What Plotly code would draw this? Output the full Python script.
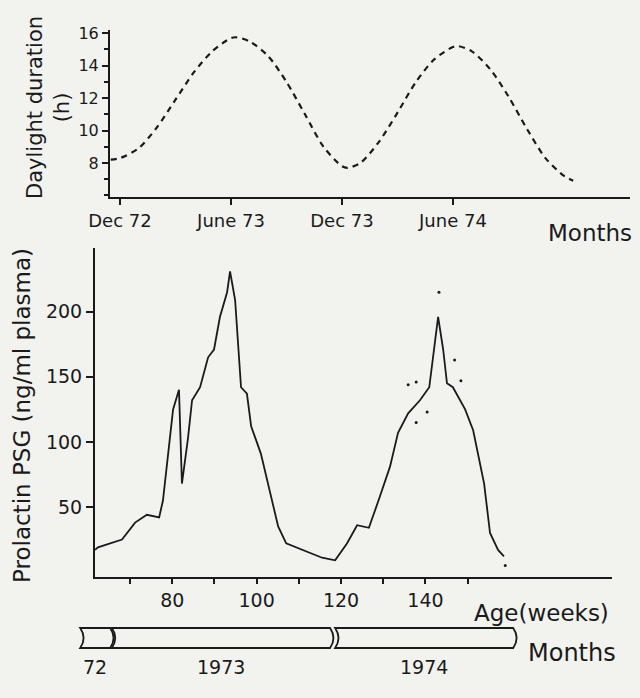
import plotly.graph_objects as go

# ---- Daylight duration (hours), months counted from December 1972 ----
day_months = [-0.5, 0, 1, 2, 3, 4, 5, 6, 6.3, 7, 8, 9, 10, 11, 12, 12.3, 13, 14,
              15, 16, 17, 18, 18.3, 19, 20, 21, 22, 23, 24, 24.5]
day_hours = [8.2, 8.3, 8.9, 10.2, 11.9, 13.6, 14.9, 15.7, 15.75, 15.5, 14.6, 13.0,
             11.0, 9.0, 7.8, 7.7, 8.0, 9.3, 11.1, 13.0, 14.4, 15.15, 15.2, 14.9,
             13.8, 12.1, 10.1, 8.3, 7.2, 6.9]
month_ticks = [0, 6, 12, 18]
month_labels = ["Dec 72", "June 73", "Dec 73", "June 74"]

# ---- Plasma prolactin (ng/ml) against age in weeks ----
age_weeks = [61.7, 62.4, 68.1, 71.2, 74.0, 76.9, 77.8, 79.2, 80.2, 81.6, 82.3, 83.7,
             84.7, 86.6, 88.5, 89.9, 91.3, 93.0, 93.7, 94.9, 95.4, 96.3, 97.7, 98.7,
             101.0, 102.9, 105.1, 107.0, 110.8, 115.5, 118.6, 121.4, 123.8, 126.6,
             129.2, 131.6, 133.5, 135.9, 138.7, 140.9, 142.3, 143.0, 144.2, 145.1,
             146.5, 149.4, 151.3, 153.9, 155.3, 157.2, 158.6]
prolactin = [17, 19, 25, 38, 44, 42, 55, 99, 125, 140, 68, 102,
             132, 142, 165, 171, 196, 215, 231, 209, 184, 142, 137, 112,
             91, 65, 35, 22, 17, 11, 9, 22, 36, 34,
             58, 81, 107, 122, 132, 142, 178, 196, 171, 145,
             142, 125, 109, 68, 30, 17, 12]
# isolated single readings
dot_weeks = [135.9, 137.8, 140.4, 137.8, 143.2, 148.4, 146.9, 158.9]
dot_values = [144, 146, 123, 115, 215, 147, 163, 5]

age_ticks = [70, 80, 90, 100, 110, 120, 130, 140, 150]
age_labels = ["", "80", "", "100", "", "120", "", "140", ""]

# ---- Calendar strip beneath the age axis (in age weeks) ----
years = ["72", "1973", "1974"]
year_start = [58.2, 65.7, 118.6]
year_end = [65.3, 117.4, 160.8]

W, H = 640, 698
BG = "#f2f2ef"
INK = "#1a1a1a"
FONT = "DejaVu Sans"


def fx(px):
    return px / W


def fy(py):
    return 1 - py / H


fig = go.Figure()

fig.add_trace(go.Scatter(
    x=day_months, y=day_hours, mode="lines", xaxis="x", yaxis="y",
    line=dict(color=INK, width=2.2, dash="6px,5px", shape="spline", smoothing=0.8),
    hoverinfo="skip", showlegend=False))

fig.add_trace(go.Scatter(
    x=age_weeks, y=prolactin, mode="lines", xaxis="x2", yaxis="y2",
    line=dict(color=INK, width=1.8), hoverinfo="skip", showlegend=False))

fig.add_trace(go.Scatter(
    x=dot_weeks, y=dot_values, mode="markers", xaxis="x2", yaxis="y2",
    marker=dict(color=INK, size=3), hoverinfo="skip", showlegend=False))

axis_common = dict(showgrid=False, zeroline=False, showline=True, linecolor=INK,
                   linewidth=2, tickcolor=INK, tickwidth=1.5, automargin=False,
                   tickfont=dict(family=FONT, size=19, color=INK))

# age scale: 517 px for 122.5 weeks; the calendar axis shares it but starts further left
wk_per_px = (184.2 - 61.7) / (612 - 95)

fig.update_layout(
    width=W, height=H,
    template="none",
    margin=dict(l=0, r=0, t=0, b=0, autoexpand=False),
    paper_bgcolor=BG, plot_bgcolor="rgba(0,0,0,0)",
    showlegend=False,
    xaxis=dict(axis_common, domain=[fx(110), fx(630)], range=[-0.54, 27.57],
               anchor="y", tickvals=month_ticks, ticktext=month_labels,
               ticks="outside", ticklen=6, tickfont=dict(family=FONT, size=18, color=INK)),
    yaxis=dict(axis_common, domain=[fy(197), fy(30)], range=[5.9, 16.2],
               anchor="x", tickvals=[8, 10, 12, 14, 16], ticks="outside", ticklen=6,
               minor=dict(dtick=1, tick0=0, ticks="outside", ticklen=4, tickcolor=INK),
               tickfont=dict(family=FONT, size=16, color=INK)),
    xaxis2=dict(axis_common, domain=[fx(95), fx(612)], range=[61.7, 184.2],
                anchor="y2", tickvals=age_ticks, ticktext=age_labels,
                ticks="outside", ticklen=5),
    yaxis2=dict(axis_common, domain=[fy(577), fy(248)], range=[-3.8, 249],
                anchor="x2", tickvals=[50, 100, 150, 200], ticks="outside", ticklen=7),
    # hidden axes carrying the calendar strip
    xaxis3=dict(domain=[fx(60), fx(612)], range=[61.7 - 35 * wk_per_px, 184.2],
                anchor="y3", visible=False, automargin=False, showgrid=False,
                zeroline=False),
    yaxis3=dict(domain=[fy(660), fy(622)], range=[0, 1], anchor="x3", visible=False,
                automargin=False, showgrid=False, zeroline=False),
)

annotations = [
    dict(text="Daylight duration<br>(h)", x=fx(48), y=fy(108), textangle=-90,
         font=dict(family=FONT, size=21, color=INK)),
    dict(text="Prolactin PSG (ng/ml plasma)", x=fx(22), y=fy(416), textangle=-90,
         font=dict(family=FONT, size=23, color=INK)),
    dict(text="Months", x=fx(590), y=fy(233), font=dict(family=FONT, size=23, color=INK)),
    dict(text="Age(weeks)", x=fx(541), y=fy(613), font=dict(family=FONT, size=23, color=INK)),
    dict(text="Months", x=fx(572), y=fy(653), font=dict(family=FONT, size=24, color=INK)),
]
for a in annotations:
    a.update(xref="paper", yref="paper", showarrow=False, xanchor="center", yanchor="middle")

# calendar strip: each year is a band with a notched left end and a rounded arrow tip
top_y, bot_y = fy(628), fy(648)
mid_y = (top_y + bot_y) / 2
shapes = []
for label, x0, x1 in zip(years, year_start, year_end):
    tip = 1.6
    path = (f"M {x0},{top_y} L {x1},{top_y} Q {x1 + tip},{mid_y} {x1},{bot_y} "
            f"L {x0},{bot_y} Q {x0 + tip},{mid_y} {x0},{top_y} Z")
    shapes.append(dict(type="path", path=path, xref="x3", yref="paper",
                       line=dict(color=INK, width=1.8), fillcolor="rgba(0,0,0,0)"))
    annotations.append(dict(text=label, x=(x0 + x1) / 2, y=fy(667), xref="x3", yref="paper",
                            showarrow=False, xanchor="center", yanchor="middle",
                            font=dict(family=FONT, size=19, color=INK)))

fig.update_layout(annotations=annotations, shapes=shapes)

fig.write_html("out.html")
